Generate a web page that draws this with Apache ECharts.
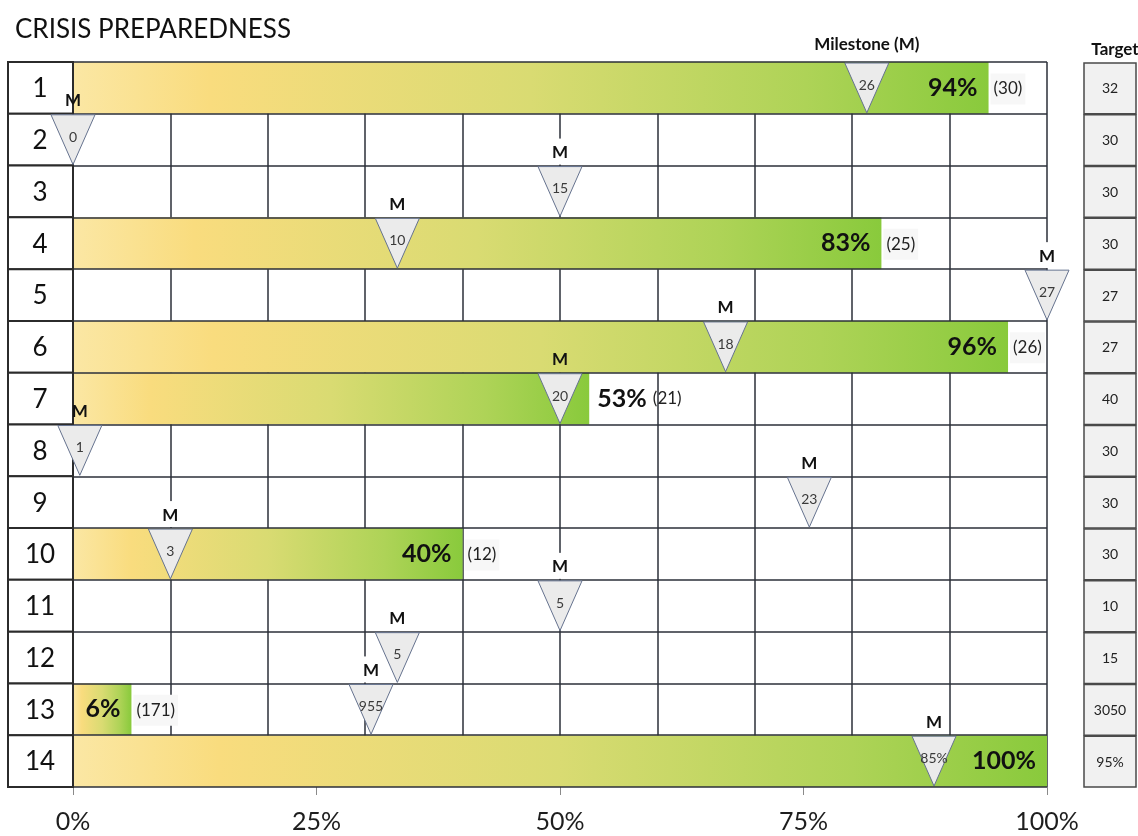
<!DOCTYPE html>
<html>
<head>
<meta charset="utf-8">
<script src="https://cdn.jsdelivr.net/npm/echarts@6/dist/echarts.min.js"></script>
<style>
  html, body { margin: 0; padding: 0; background: #ffffff; }
  #chart { width: 1138px; height: 836px; }
</style>
</head>
<body>
<div id="chart"></div>
<script>
// Row labels (top to bottom)
const rowLabels = ['1', '2', '3', '4', '5', '6', '7', '8', '9', '10', '11', '12', '13', '14'];
// Target per row
const targets = ['32', '30', '30', '30', '27', '27', '40', '30', '30', '30', '10', '15', '3050', '95%'];
// Progress as a percentage of target (null = no progress bar)
const progressPct = [94, null, null, 83, null, 96, 53, null, null, 40, null, null, 6, 100];
// Progress count shown next to each bar
const progressCount = ['(30)', '', '', '(25)', '', '(26)', '(21)', '', '', '(12)', '', '', '(171)', ''];
// Milestone position on the 0-100% scale
const milestonePct = [81.5, 0, 50, 33.3, 100, 67, 50, 0.7, 75.6, 10, 50, 33.3, 30.6, 88.4];
// Milestone value written inside each marker
const milestoneValue = ['26', '0', '15', '10', '27', '18', '20', '1', '23', '3', '5', '5', '955', '85%'];
// Caption above each marker
const milestoneTag = ['Milestone (M)', 'M', 'M', 'M', 'M', 'M', 'M', 'M', 'M', 'M', 'M', 'M', 'M', 'M'];
// Percent ticks labelled along the bottom
const xLabelTicks = [0, 25, 50, 75, 100];

const FONT = 'Lato, "Open Sans", sans-serif';

// When a marker sits near the end of a bar, the percent goes outside the bar
const crowded = progressPct.map((v, i) => v != null && Math.abs(v - milestonePct[i]) < 8);

const barData = progressPct.map((v, i) => {
  if (v == null) return '-';
  if (crowded[i]) {
    return {
      value: v,
      label: {
        position: 'right',
        distance: 8,
        formatter: '{p|' + v + '%}  {c|' + progressCount[i] + '}'
      }
    };
  }
  return v;
});

const countData = [];
progressPct.forEach((v, i) => {
  if (v != null && progressCount[i] && !crowded[i]) countData.push([v, i, i]);
});

const rowIdx = rowLabels.map((_, i) => i);

const chart = echarts.init(document.getElementById('chart'), null, { renderer: 'canvas' });

function band(api, x, i) {
  const c = api.coord([x, i]);
  const h = api.size([0, 1])[1];
  return { x: c[0], y: c[1], h: h, top: c[1] - h / 2 };
}

const option = {
  animation: false,
  backgroundColor: '#ffffff',
  textStyle: { fontFamily: FONT },
  title: [
    {
      text: 'CRISIS PREPAREDNESS',
      left: 10, top: 12,
      textStyle: { fontFamily: FONT, fontSize: 26, fontWeight: 'normal', color: '#111' }
    },
    {
      text: 'Target',
      left: 1110, top: 36, textAlign: 'center',
      textStyle: { fontFamily: FONT, fontSize: 17, fontWeight: 'bold', color: '#111' }
    }
  ],
  grid: { left: 73, right: 91, top: 62, bottom: 49 },
  xAxis: [
    {
      type: 'value', min: 0, max: 100, interval: 10,
      axisLine: { show: false }, axisTick: { show: false }, axisLabel: { show: false },
      splitLine: { show: true, lineStyle: { color: '#2b2f38', width: 1.5 } }
    },
    {
      type: 'value', min: 0, max: 100, interval: 25, position: 'bottom',
      axisLine: { show: false },
      axisTick: { show: true, length: 8, lineStyle: { color: '#8a8a8a', width: 1 } },
      splitLine: { show: false },
      axisLabel: {
        margin: 22, fontSize: 25, color: '#1e1e1e', fontFamily: FONT,
        customValues: xLabelTicks,
        formatter: v => v + '%'
      }
    }
  ],
  yAxis: {
    type: 'category', data: rowLabels, inverse: true, z: 3,
    axisLine: { show: false }, axisTick: { show: false }, axisLabel: { show: false },
    splitLine: { show: true, lineStyle: { color: '#2b2f38', width: 1.5 } }
  },
  series: [
    {
      // white patches behind the "M" captions, hiding the grid lines there
      type: 'custom', name: 'caption-bg', z: 1, clip: false, silent: true,
      data: rowIdx.map(i => [milestonePct[i], i]),
      encode: { x: 0, y: 1 },
      renderItem: function (params, api) {
        const i = params.dataIndex;
        if (i === 0) return null;
        const b = band(api, api.value(0), api.value(1));
        return {
          type: 'rect',
          shape: { x: b.x - 12, y: b.top - 27, width: 24, height: 26 },
          style: { fill: '#ffffff' }
        };
      }
    },
    {
      type: 'bar', name: 'progress', xAxisIndex: 0, z: 2,
      data: barData,
      barCategoryGap: '0%',
      itemStyle: {
        color: new echarts.graphic.LinearGradient(0, 0, 1, 0, [
          { offset: 0, color: '#fbe7a4' },
          { offset: 0.15, color: '#f9dc7e' },
          { offset: 0.5, color: '#d9db72' },
          { offset: 0.8, color: '#aed357' },
          { offset: 1, color: '#89ca3c' }
        ])
      },
      label: {
        show: true, position: 'insideRight', distance: 11,
        formatter: '{p|{c}%}',
        rich: {
          p: { fontFamily: FONT, fontSize: 25, fontWeight: 'bold', color: '#111' },
          c: { fontFamily: FONT, fontSize: 17, color: '#222' }
        }
      }
    },
    {
      type: 'custom', name: 'count', z: 4, clip: false, silent: true,
      data: countData,
      encode: { x: 0, y: 1 },
      renderItem: function (params, api) {
        const i = api.value(2);
        const b = band(api, api.value(0), api.value(1));
        return {
          type: 'text',
          style: {
            text: progressCount[i], x: b.x + 2, y: b.y + 1,
            align: 'left', verticalAlign: 'middle',
            fontFamily: FONT, fontSize: 17, fill: '#222',
            backgroundColor: '#f7f7f7', padding: [7, 3, 7, 3]
          }
        };
      }
    },
    {
      type: 'custom', name: 'rows', z: 5, clip: false, silent: true,
      data: rowIdx.map(i => [0, i]),
      encode: { x: 0, y: 1 },
      renderItem: function (params, api) {
        const i = params.dataIndex;
        const b = band(api, 0, api.value(1));
        return {
          type: 'group',
          children: [
            {
              type: 'rect',
              shape: { x: b.x - 65, y: b.top, width: 65, height: b.h },
              style: { fill: '#ffffff', stroke: '#2b2b2b', lineWidth: 2 }
            },
            {
              type: 'text',
              style: {
                text: rowLabels[i], x: b.x - 33, y: b.y + 1,
                align: 'center', verticalAlign: 'middle',
                fontFamily: FONT, fontSize: 26, fill: '#111'
              }
            }
          ]
        };
      }
    },
    {
      type: 'custom', name: 'target', z: 5, clip: false, silent: true,
      data: rowIdx.map(i => [100, i]),
      encode: { x: 0, y: 1 },
      renderItem: function (params, api) {
        const i = params.dataIndex;
        const b = band(api, 100, api.value(1));
        return {
          type: 'group',
          children: [
            {
              type: 'rect',
              shape: { x: b.x + 37, y: b.top + 1, width: 52, height: b.h - 1 },
              style: { fill: '#f1f1f1', stroke: '#4a4a4a', lineWidth: 1.5 }
            },
            {
              type: 'text',
              style: {
                text: targets[i], x: b.x + 63, y: b.y + 1,
                align: 'center', verticalAlign: 'middle',
                fontFamily: FONT, fontSize: 14, fill: '#222'
              }
            }
          ]
        };
      }
    },
    {
      type: 'custom', name: 'milestone', z: 6, clip: false, silent: true,
      data: rowIdx.map(i => [milestonePct[i], i]),
      encode: { x: 0, y: 1 },
      renderItem: function (params, api) {
        const i = params.dataIndex;
        const b = band(api, api.value(0), api.value(1));
        const hw = 22;
        const tagY = i === 0 ? b.top - 17 : b.top - 13;
        return {
          type: 'group',
          children: [
            {
              type: 'polygon',
              shape: { points: [[b.x - hw, b.top + 1], [b.x + hw, b.top + 1], [b.x, b.top + b.h - 1]] },
              style: { fill: '#ebebeb', stroke: '#66738f', lineWidth: 1 }
            },
            {
              type: 'text',
              style: {
                text: milestoneValue[i], x: b.x, y: b.top + b.h * 0.45,
                align: 'center', verticalAlign: 'middle',
                fontFamily: FONT, fontSize: 14, fill: '#3a3a3a'
              }
            },
            {
              type: 'text',
              style: {
                text: milestoneTag[i], x: b.x, y: tagY,
                align: 'center', verticalAlign: 'middle',
                fontFamily: FONT, fontSize: 17, fontWeight: 'bold', fill: '#111'
              }
            }
          ]
        };
      }
    }
  ]
};

chart.setOption(option);
</script>
</body>
</html>
